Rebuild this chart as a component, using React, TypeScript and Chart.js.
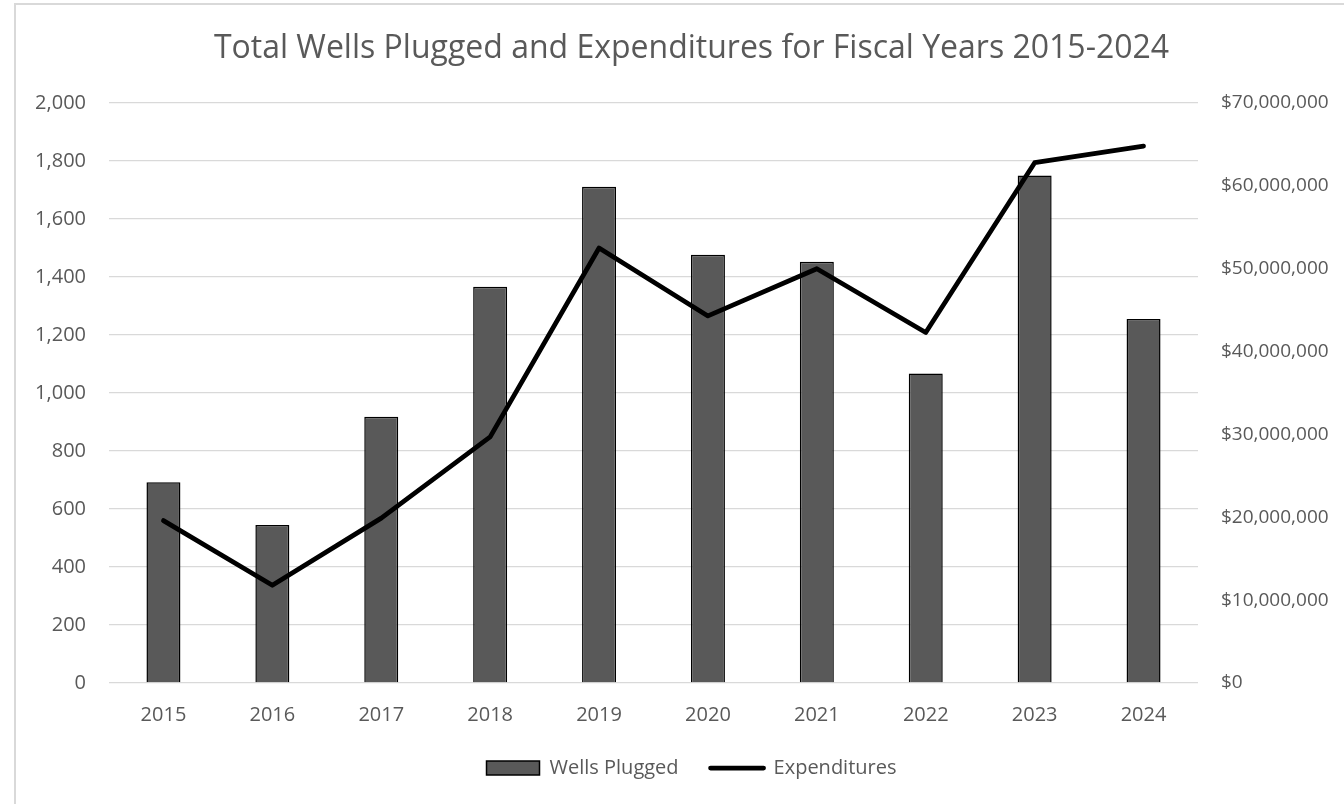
import React, { useEffect, useRef } from "react";
import { Chart, registerables } from "chart.js";

Chart.register(...registerables);

const years = ["2015", "2016", "2017", "2018", "2019", "2020", "2021", "2022", "2023", "2024"];
const wellsPlugged = [692, 545, 918, 1366, 1711, 1477, 1453, 1067, 1750, 1255];
const expenditures = [19600000, 11800000, 19900000, 29700000, 52500000, 44300000, 50000000, 42300000, 62800000, 64800000];
const titleText = "Total Wells Plugged and Expenditures for Fiscal Years 2015-2024";

const TEXT = "#595959";
const GRID = "#d9d9d9";
const FONT = "'Open Sans', 'Noto Sans', sans-serif";

const framePlugin = {
  id: "frame",
  beforeDraw(chart: any) {
    const ctx = chart.ctx;
    ctx.save();
    ctx.fillStyle = "#ffffff";
    ctx.fillRect(0, 0, chart.width, chart.height);
    ctx.strokeStyle = GRID;
    ctx.lineWidth = 2;
    ctx.strokeRect(15, 4, chart.width + 40, chart.height + 40);
    ctx.restore();
  },
};

export default function App() {
  const ref = useRef<HTMLCanvasElement | null>(null);

  useEffect(() => {
    if (!ref.current) return;
    Chart.defaults.font.family = FONT;
    const chart = new Chart(ref.current, {
      type: "bar",
      data: {
        labels: years,
        datasets: [
          {
            type: "bar",
            label: "Wells Plugged",
            data: wellsPlugged,
            backgroundColor: "#595959",
            borderColor: "#000000",
            borderWidth: 1.5,
            barPercentage: 0.312,
            categoryPercentage: 1,
            yAxisID: "y",
            order: 1,
          } as any,
          {
            type: "line",
            label: "Expenditures",
            data: expenditures,
            borderColor: "#000000",
            backgroundColor: "#000000",
            borderWidth: 4.75,
            pointRadius: 0,
            tension: 0,
            borderCapStyle: "round",
            borderJoinStyle: "round",
            yAxisID: "y1",
            order: 0,
          } as any,
        ],
      },
      options: {
        responsive: false,
        animation: false,
        layout: { padding: { left: 0, right: -39, top: 0, bottom: 16 } },
        plugins: {
          tooltip: { enabled: false },
          title: {
            display: true,
            text: titleText,
            color: TEXT,
            font: { size: 32, weight: "normal" as any, family: FONT, lineHeight: 1.2 },
            padding: { top: 30, bottom: 34.6 },
          },
          legend: {
            position: "bottom",
            labels: {
              color: TEXT,
              font: { size: 20, family: FONT },
              usePointStyle: true,
              pointStyleWidth: 53,
              boxHeight: 14,
              padding: 32,
              generateLabels: (c: any) => {
                const items = (Chart.defaults.plugins.legend.labels as any).generateLabels(c);
                items.forEach((it: any) => {
                  const ds: any = c.data.datasets[it.datasetIndex];
                  if (ds.type === "line") {
                    it.pointStyle = "line";
                    it.strokeStyle = "#000000";
                    it.lineWidth = 4.75;
                    it.lineCap = "round";
                  } else {
                    it.pointStyle = "rect";
                    it.fillStyle = "#595959";
                    it.strokeStyle = "#000000";
                    it.lineWidth = 1.5;
                  }
                  it.fontColor = TEXT;
                });
                items.sort((a: any, b: any) => a.datasetIndex - b.datasetIndex);
                return items;
              },
            },
          },
        },
        scales: {
          x: {
            grid: { display: false, drawTicks: false },
            border: { display: false },
            ticks: { color: TEXT, font: { size: 20, family: FONT }, padding: 20 },
            afterFit: (s: any) => {
              s.height = 43;
            },
          },
          y: {
            position: "left",
            min: 0,
            max: 2000,
            grid: { color: GRID, lineWidth: 1.3, drawTicks: false },
            border: { display: false },
            ticks: {
              stepSize: 200,
              color: TEXT,
              font: { size: 20, family: FONT },
              padding: 23,
              callback: (v: any) => Number(v).toLocaleString("en-US"),
            },
            afterFit: (s: any) => {
              s.width = 109;
            },
          },
          y1: {
            position: "right",
            min: 0,
            max: 70000000,
            grid: { display: false, drawOnChartArea: false, drawTicks: false },
            border: { display: false },
            ticks: {
              stepSize: 10000000,
              color: TEXT,
              font: { size: 19, family: FONT },
              padding: 23,
              callback: (v: any) => "$" + Number(v).toLocaleString("en-US"),
            },
            afterFit: (s: any) => {
              s.width = 185;
            },
          },
        },
      },
      plugins: [framePlugin],
    });
    return () => chart.destroy();
  }, []);

  return (
    <div style={{ position: "absolute", left: 0, top: 0, width: 1344, height: 804 }}>
      <canvas ref={ref} width={1344} height={804} style={{ display: "block" }} />
    </div>
  );
}
